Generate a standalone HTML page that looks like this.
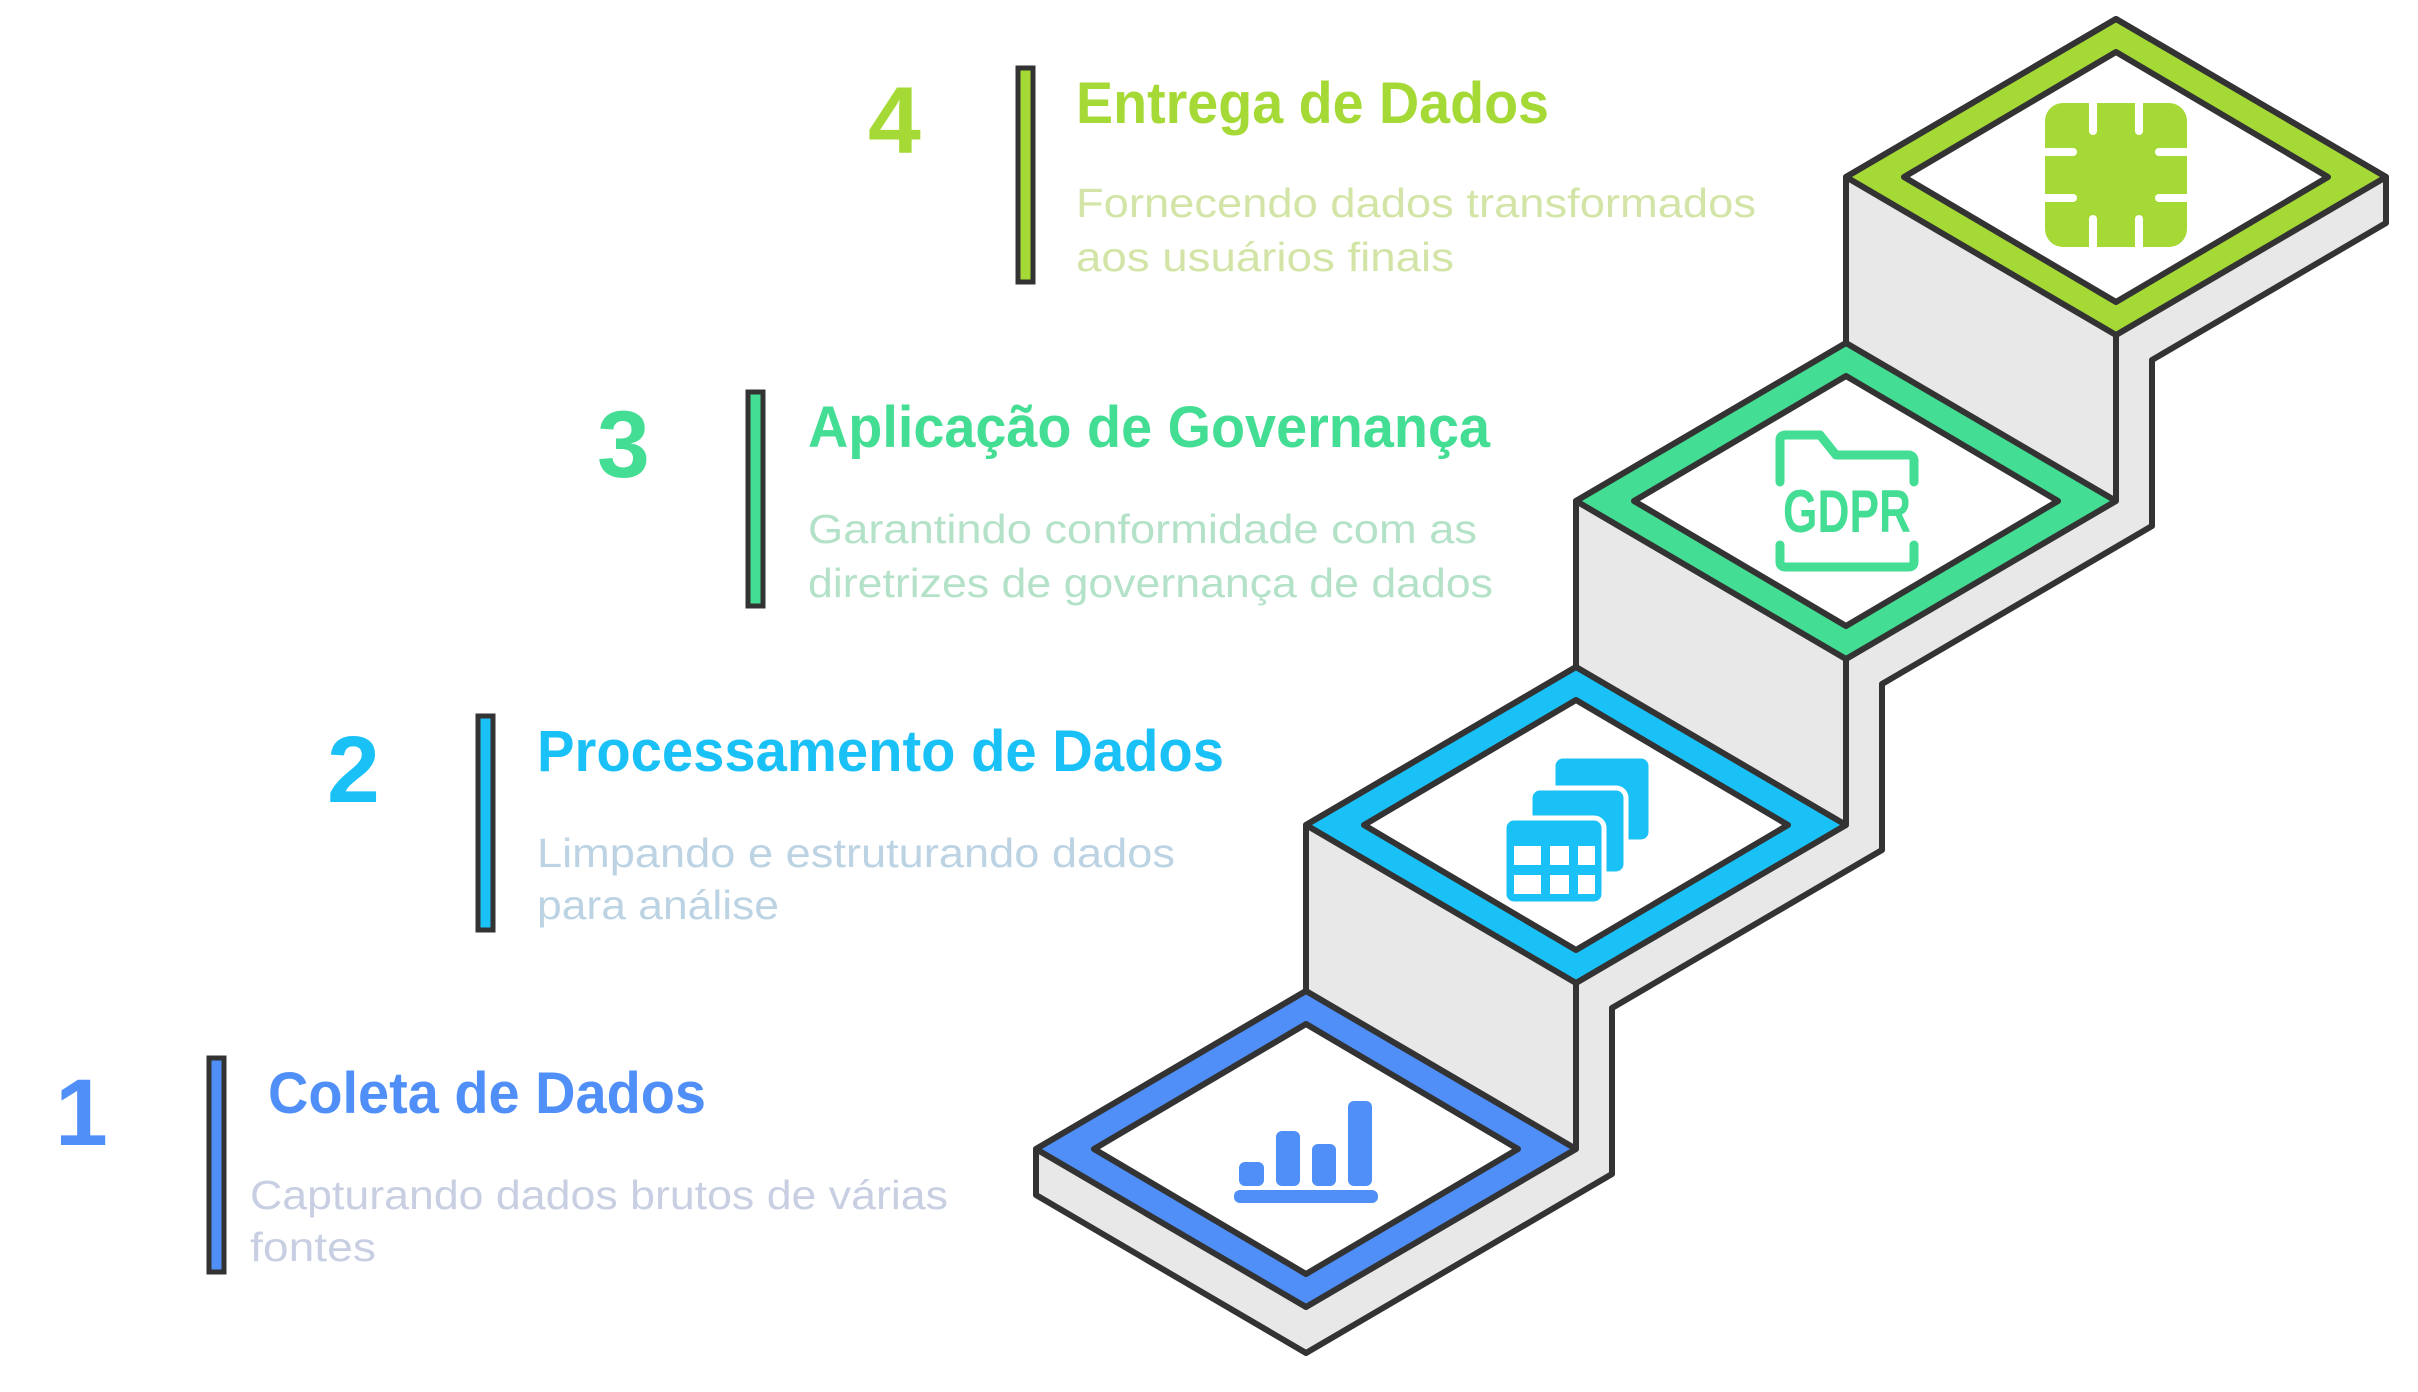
<!DOCTYPE html>
<html><head><meta charset="utf-8"><style>html,body{margin:0;padding:0;background:#fff}svg{display:block}</style></head>
<body>
<svg width="2418" height="1392" viewBox="0 0 2418 1392" xmlns="http://www.w3.org/2000/svg" font-family="'Liberation Sans', sans-serif">
<rect width="2418" height="1392" fill="#fff"/>
<polygon points="1036,1149 1306,991 1306,825 1576,667 1576,501 1846,343 1846,177 2116,19 2386,177 2386,223 2152,360 2152,526 1882,684 1882,850 1612,1008 1612,1174 1306,1353 1036,1195" fill="#e8e8e8" stroke="#333" stroke-width="6" stroke-linejoin="round"/>
<g stroke="#333" stroke-width="6">
<line x1="1576" y1="983" x2="1576" y2="1149"/>
<line x1="1846" y1="659" x2="1846" y2="825"/>
<line x1="2116" y1="335" x2="2116" y2="501"/>
</g>
<g stroke="#333" stroke-width="6" stroke-linejoin="round">
<polygon points="1306,991 1576,1149 1306,1307 1036,1149" fill="#4f8ff7"/>
<polygon points="1306,1024 1518,1149 1306,1274 1094,1149" fill="#fff"/>
<polygon points="1576,667 1846,825 1576,983 1306,825" fill="#1ac1f7"/>
<polygon points="1576,700 1788,825 1576,950 1364,825" fill="#fff"/>
<polygon points="1846,343 2116,501 1846,659 1576,501" fill="#43dd93"/>
<polygon points="1846,376 2058,501 1846,626 1634,501" fill="#fff"/>
<polygon points="2116,19 2386,177 2116,335 1846,177" fill="#a5d936"/>
<polygon points="2116,52 2328,177 2116,302 1904,177" fill="#fff"/>
</g>
<g fill="#4f8ff7">
<rect x="1239" y="1162" width="25" height="24" rx="6"/>
<rect x="1276" y="1131" width="24" height="55" rx="6"/>
<rect x="1312" y="1144" width="24" height="42" rx="6"/>
<rect x="1348" y="1101" width="24" height="85" rx="6"/>
<rect x="1234" y="1190" width="144" height="13" rx="6"/>
</g>
<g>
<rect x="1553" y="756" width="98" height="86" rx="10" fill="#1ac1f7" stroke="#fff" stroke-width="5"/>
<rect x="1530" y="788" width="96" height="86" rx="10" fill="#1ac1f7" stroke="#fff" stroke-width="5"/>
<rect x="1504" y="818" width="100" height="86" rx="10" fill="#1ac1f7" stroke="#fff" stroke-width="5"/>
<g fill="#fff">
<rect x="1514" y="846" width="27" height="19"/><rect x="1550" y="846" width="19" height="19"/><rect x="1578" y="846" width="17" height="19"/>
<rect x="1514" y="875" width="27" height="19"/><rect x="1550" y="875" width="19" height="19"/><rect x="1578" y="875" width="17" height="19"/>
</g>
</g>
<g fill="none" stroke="#43dd93" stroke-width="9" stroke-linecap="round" stroke-linejoin="round">
<path d="M1780,482 L1780,440 Q1780,435 1786,435 L1820,435 L1836,455 L1908,455 Q1914,455 1914,461 L1914,482"/>
<path d="M1780,545 L1780,562 Q1780,567 1786,567 L1908,567 Q1914,567 1914,562 L1914,545"/>
</g>
<text x="1847" y="532" font-size="60" font-weight="bold" fill="#43dd93" text-anchor="middle" textLength="128" lengthAdjust="spacingAndGlyphs">GDPR</text>
<g>
<rect x="2045" y="103" width="142" height="144" rx="18" fill="#a5d936"/>
<g stroke="#fff" stroke-width="8" stroke-linecap="round">
<line x1="2093" y1="99" x2="2093" y2="131"/><line x1="2139" y1="99" x2="2139" y2="131"/>
<line x1="2093" y1="219" x2="2093" y2="251"/><line x1="2139" y1="219" x2="2139" y2="251"/>
<line x1="2041" y1="152" x2="2073" y2="152"/><line x1="2041" y1="198" x2="2073" y2="198"/>
<line x1="2159" y1="152" x2="2191" y2="152"/><line x1="2159" y1="198" x2="2191" y2="198"/>
</g>
</g>
<g stroke="#333" stroke-width="5">
<rect x="1018" y="68" width="15" height="214" fill="#a5d936"/>
<rect x="748" y="392" width="15" height="214" fill="#43dd93"/>
<rect x="478" y="716" width="15" height="214" fill="#1ac1f7"/>
<rect x="209" y="1058" width="15" height="214" fill="#4f8ff7"/>
</g>
<g font-weight="bold" font-size="95">
<text x="868" y="153" fill="#a5d936">4</text>
<text x="597" y="477" fill="#43dd93">3</text>
<text x="327" y="802" fill="#1ac1f7">2</text>
<text x="55" y="1145" fill="#4f8ff7">1</text>
</g>
<g font-weight="bold" font-size="58">
<text x="1076" y="123" fill="#a5d936" textLength="473" lengthAdjust="spacingAndGlyphs">Entrega de Dados</text>
<text x="808" y="447" fill="#43dd93" textLength="682" lengthAdjust="spacingAndGlyphs">Aplicação de Governança</text>
<text x="537" y="771" fill="#1ac1f7" textLength="687" lengthAdjust="spacingAndGlyphs">Processamento de Dados</text>
<text x="268" y="1113" fill="#4f8ff7" textLength="438" lengthAdjust="spacingAndGlyphs">Coleta de Dados</text>
</g>
<g font-size="41">
<text x="1076" y="217" fill="#d3e5a6" textLength="680" lengthAdjust="spacingAndGlyphs">Fornecendo dados transformados</text>
<text x="1076" y="271" fill="#d3e5a6" textLength="378" lengthAdjust="spacingAndGlyphs">aos usuários finais</text>
<text x="808" y="543" fill="#b3e2c8" textLength="669" lengthAdjust="spacingAndGlyphs">Garantindo conformidade com as</text>
<text x="808" y="597" fill="#b3e2c8" textLength="685" lengthAdjust="spacingAndGlyphs">diretrizes de governança de dados</text>
<text x="537" y="867" fill="#bcd3e4" textLength="638" lengthAdjust="spacingAndGlyphs">Limpando e estruturando dados</text>
<text x="537" y="919" fill="#bcd3e4" textLength="242" lengthAdjust="spacingAndGlyphs">para análise</text>
<text x="250" y="1209" fill="#c8cfe2" textLength="698" lengthAdjust="spacingAndGlyphs">Capturando dados brutos de várias</text>
<text x="250" y="1261" fill="#c8cfe2" textLength="126" lengthAdjust="spacingAndGlyphs">fontes</text>
</g>
</svg>
</body></html>
